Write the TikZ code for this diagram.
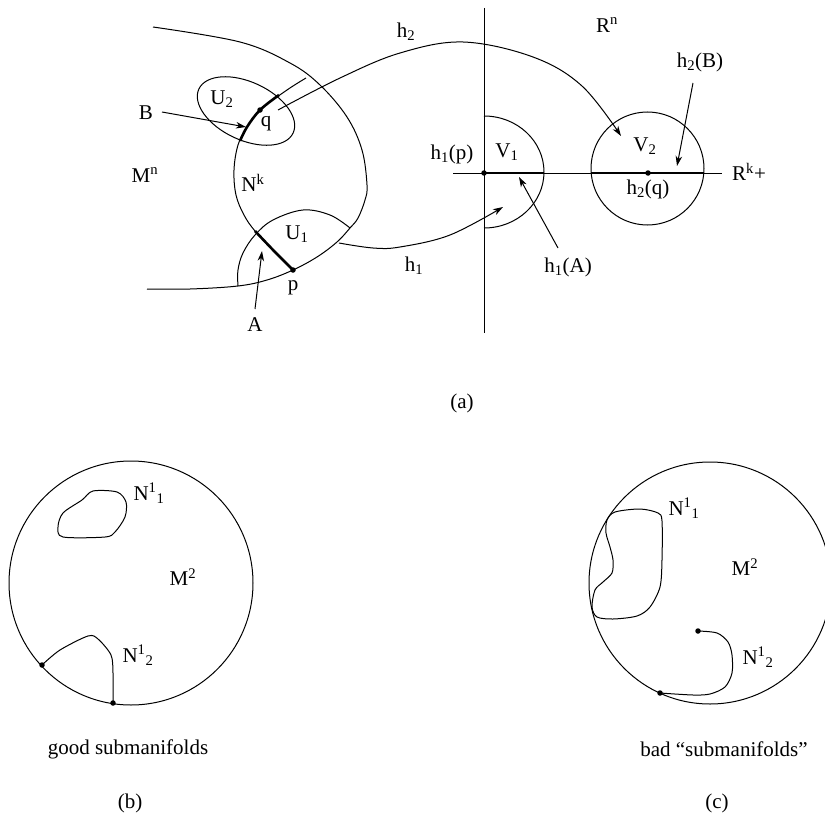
\documentclass[tikz,border=0pt]{standalone}
\usepackage{fontspec}
\setmainfont{Liberation Serif}
\usetikzlibrary{arrows.meta}
\begin{document}
\begin{tikzpicture}[x=1pt,y=-1pt,
  line width=1pt,
  lbl/.style={font=\fontsize{21}{25}\selectfont, inner sep=0pt},
  thickline/.style={line width=2.6pt},
  tip/.style={-{Stealth[length=10pt,width=6.5pt,inset=3pt]}},
  dotm/.style={circle, fill, inner sep=0pt, minimum size=5.5pt}]
\useasboundingbox (0,0) rectangle (825,816);

% ---------- (a) left: manifold ----------
\draw plot[smooth, tension=0.6] coordinates {(153,27) (240,42) (290,63) (320,85) (347,117) (362,150) (367,185) (365,200) (358,218) (350,228) (337,242) (317,257) (293,270) (267,280) (238,286) (190,289) (147,289)};
% inner boundary of N^k
\draw plot[smooth, tension=0.6] coordinates {(306,78) (287,90) (260,110) (247,127) (238,145) (234,170) (236,195) (244,215) (255,231) (275,252) (293,270)};
% thick pieces A and B
\draw[thickline] plot[smooth, tension=0.6] coordinates {(255,231) (275,252) (293,270)};
\draw[thickline] plot[smooth, tension=0.6] coordinates {(240,141) (247,127) (260,110) (279,95)};
% U1
\draw plot[smooth, tension=0.6] coordinates {(238,286) (238,270) (243,253) (255,235) (273,220) (303,210) (330,215) (350,228)};
% U2
\draw[rotate around={-25:(246,111)}] (246,111) ellipse [x radius=52, y radius=29];

\node[dotm] (q) at (260,110) {};
\node[dotm] (p) at (293,270) {};

\node[lbl] (Mn) at (145,175) {M\textsuperscript{n}};
\node[lbl] (Nk) at (253,183) {N\textsuperscript{k}};
\node[lbl] (U2) at (222,99) {U\textsubscript{2}};
\node[lbl] (U1) at (297,234) {U\textsubscript{1}};
\node[lbl] (ql) at (266,124) {q};
\node[lbl] (pl) at (293,288) {p};
\node[lbl] (B) at (146,113) {B};
\node[lbl] (A) at (255,325) {A};

\coordinate (Bs) at (162,112);
\coordinate (Bt) at (246,127);
\draw[tip] (Bs) -- (Bt);
\coordinate (As) at (255,309);
\coordinate (At) at (262,251);
\draw[tip] (As) -- (At);

% ---------- (a) right: R^n ----------
\coordinate (vtop) at (484,8);
\coordinate (vbot) at (484,333);
\coordinate (hl) at (453,173);
\coordinate (hr) at (722,173);
\draw (vtop) -- (vbot);
\draw (hl) -- (hr);
\draw (484,116) arc[start angle=-90, end angle=90, x radius=60, y radius=56];
\draw (647.5,168.5) circle[radius=56.5];
\draw[thickline] (484,173) -- (544,173);
\draw[thickline] (591,173) -- (704,173);
\node[dotm] (h1p) at (484,173) {};
\node[dotm] (h2q) at (648,173) {};

\node[lbl] (Rn) at (607,25) {R\textsuperscript{n}};
\node[lbl] (Rk) at (749,172) {R\textsuperscript{k}+};
\node[lbl] (V1) at (507,152) {V\textsubscript{1}};
\node[lbl] (V2) at (645,146) {V\textsubscript{2}};
\node[lbl] (h1pl) at (452,154) {h\textsubscript{1}(p)};
\node[lbl] (h2ql) at (648,189) {h\textsubscript{2}(q)};
\node[lbl] (h2B) at (700,62) {h\textsubscript{2}(B)};
\node[lbl] (h1A) at (568,267) {h\textsubscript{1}(A)};
\node[lbl] (h2l) at (406,32) {h\textsubscript{2}};
\node[lbl] (h1l) at (414,266) {h\textsubscript{1}};

\coordinate (hBs) at (693,83);
\coordinate (hBt) at (677,166);
\draw[tip] (hBs) -- (hBt);
\coordinate (hAs) at (558,248);
\coordinate (hAt) at (519,177);
\draw[tip] (hAs) -- (hAt);

% maps h1, h2
\draw[tip] plot[smooth, tension=0.6] coordinates {(278,110) (340,78) (400,53) (463,42) (533,57) (582,86) (621,136)};
\draw[tip] plot[smooth, tension=0.6] coordinates {(339,243) (373,248) (400,247) (450,235) (503,207)};

\node[lbl] (a) at (462,403) {(a)};

% ---------- (b) ----------
\draw (131,583) circle[radius=122];
\draw plot[smooth cycle, tension=0.5] coordinates {(93,491) (117,492) (126,502) (125,517) (115,532) (105,537) (63,537) (58,527) (63,513) (82,500)};
\node[dotm] (b1) at (42,665) {};
\node[dotm] (b2) at (113,703) {};
\draw plot[smooth, tension=0.5] coordinates {(42,665) (60,650) (88,636) (98,639) (111,655) (113,673) (113,703)};
\node[lbl] (bN1) at (149,493) {N\textsuperscript{1}\textsubscript{1}};
\node[lbl] (bN2) at (138,655) {N\textsuperscript{1}\textsubscript{2}};
\node[lbl] (bM) at (183,577) {M\textsuperscript{2}};
\node[lbl] (bt) at (128,749) {good submanifolds};
\node[lbl] (b) at (130,803) {(b)};

% ---------- (c) ----------
\begin{scope}
\clip (0,0) rectangle (825,816);
\draw (710,583) circle[radius=121];
\end{scope}
\draw plot[smooth cycle, tension=0.5] coordinates {(607,520) (615,512) (640,509) (658,513) (662,521) (662,560) (660,587) (650,607) (637,616) (613,619) (597,617) (592,607) (595,590) (603,582) (612,573) (613,560) (610,547) (606,533)};
\node[dotm] (c1) at (698,631) {};
\node[dotm] (c2) at (660,693) {};
\draw plot[smooth, tension=0.5] coordinates {(698,631) (717,633) (728,642) (732,655) (732,673) (725,687) (710,694) (693,695) (660,693)};
\node[lbl] (cN1) at (684,508) {N\textsuperscript{1}\textsubscript{1}};
\node[lbl] (cN2) at (758,657) {N\textsuperscript{1}\textsubscript{2}};
\node[lbl] (cM) at (745,567) {M\textsuperscript{2}};
\node[lbl] (ct) at (724,749) {bad “submanifolds”};
\node[lbl] (c) at (717,803) {(c)};
\end{tikzpicture}
\end{document}
